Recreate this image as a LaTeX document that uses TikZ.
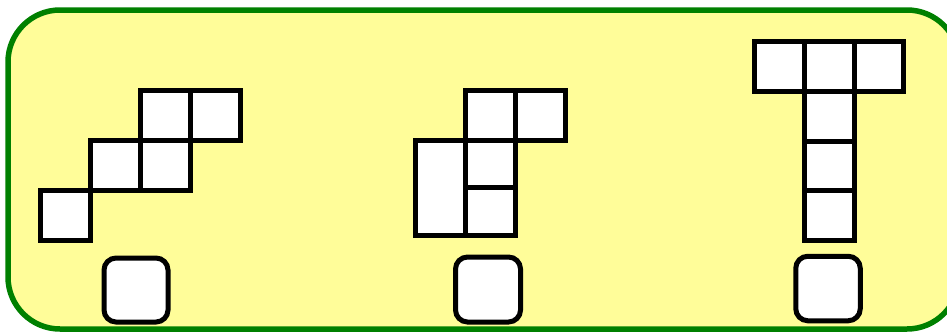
\documentclass[tikz,border=0pt]{standalone}
\usetikzlibrary{positioning}
\definecolor{panelfill}{RGB}{255,253,153}
\definecolor{panelline}{RGB}{0,128,0}
\tikzset{
  cell/.style={draw=black, fill=white, line width=5pt, inner sep=0pt, outer sep=0pt,
    minimum width=50pt, minimum height=50pt, rectangle},
  piece/.style={draw=black, fill=white, line width=5pt, inner sep=0pt, outer sep=0pt,
    minimum width=64pt, minimum height=64pt, rectangle, rounded corners=12pt},
  panel/.style={draw=panelline, fill=panelfill, line width=5.5pt, rounded corners=52pt}
}
\begin{document}
\begin{tikzpicture}[x=1pt,y=-1pt]
\useasboundingbox (0,0) rectangle (947,332);
\clip (0,0) rectangle (947,332);
\draw[panel] (8,10) rectangle (959,329);
% left shape
\node[cell] (a1) at (65,215) {};
\node[cell] (a2) at (115,165) {};
\node[cell] (a3) at (165,165) {};
\node[cell] (a4) at (165,115) {};
\node[cell] (a5) at (215,115) {};
\node[piece] (pa) at (136,290) {};
% middle shape
\node[cell] (b1) at (490,115) {};
\node[cell] (b2) at (540,115) {};
\node[cell, minimum height=95pt] (b3) at (440,187.5) {};
\node[cell, minimum height=47.5pt] (b4) at (490,163.75) {};
\node[cell, minimum height=47.5pt] (b5) at (490,211.25) {};
\node[piece, minimum width=65pt, minimum height=65pt] (pb) at (488,289.5) {};
% right shape
\node[cell, minimum width=49.5pt] (c1) at (779.25,66.5) {};
\node[cell] (c2) at (829,66.5) {};
\node[cell, minimum width=49.5pt] (c3) at (878.75,66.5) {};
\node[cell, minimum height=49.5pt] (c4) at (829,116.25) {};
\node[cell, minimum height=49.5pt] (c5) at (829,165.75) {};
\node[cell, minimum height=49.5pt] (c6) at (829,215.25) {};
\node[piece, minimum width=64.5pt, minimum height=64.5pt] (pc) at (828,288.5) {};
\end{tikzpicture}
\end{document}
